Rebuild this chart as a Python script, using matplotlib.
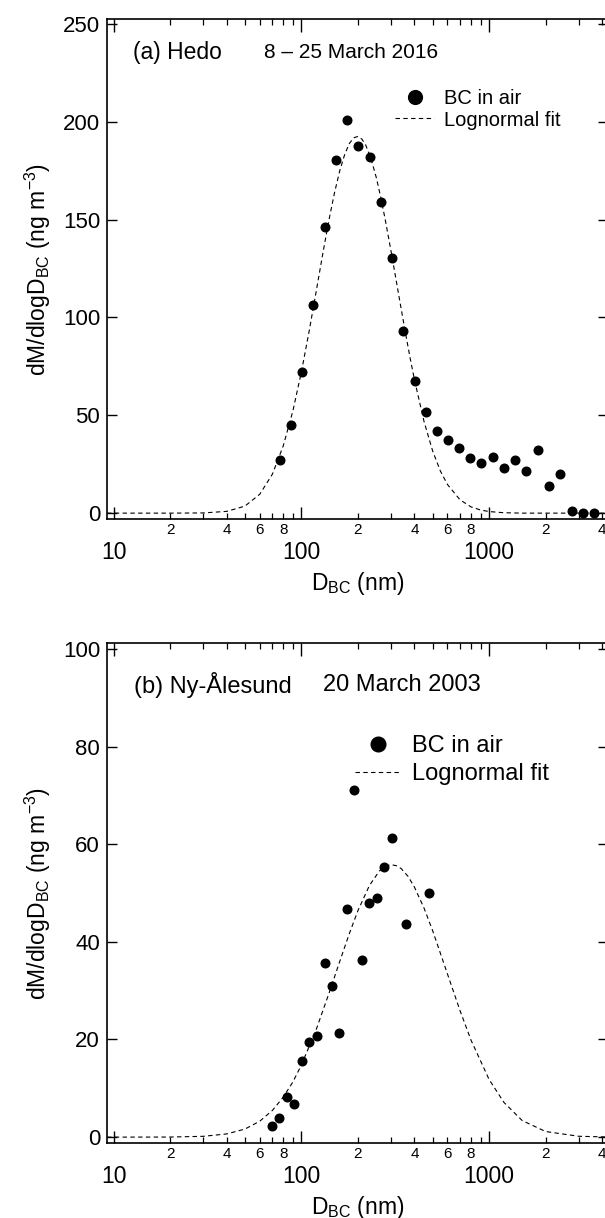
import numpy as np
import matplotlib
matplotlib.use('Agg')
import matplotlib.pyplot as plt
from matplotlib.ticker import FixedLocator, FuncFormatter

plt.rcParams['font.family'] = ['Liberation Sans', 'DejaVu Sans']
plt.rcParams['mathtext.fontset'] = 'custom'
plt.rcParams['mathtext.rm'] = 'Liberation Sans'
plt.rcParams['mathtext.it'] = 'Liberation Sans:italic'

# (a) Hedo, 8-25 March 2016 : measured BC mass size distribution
d_hedo = [76.4, 87.7, 100.5, 115.7, 132.8, 152.0, 174.6, 200.9, 230.6, 264.4,
          303, 349, 400.6, 459, 526, 604, 692, 794, 910, 1048,
          1202, 1378, 1580, 1820, 2088, 2393, 2757, 3162, 3624]
m_hedo = [27.3, 45.2, 72.0, 106.6, 146.1, 180.3, 200.8, 187.6, 182.2, 159.1,
          130.3, 93.3, 67.4, 51.9, 41.8, 37.5, 33.3, 28.3, 25.8, 28.7,
          23.0, 27.0, 21.7, 32.2, 13.8, 20.0, 0.9, 0.0, 0.0]

# lognormal fit, values
fit_d_hedo = [9.2, 20, 30, 40, 50, 60, 70, 80, 90, 100, 110, 120, 130, 140, 150,
              160, 170, 180, 190, 200, 210, 220, 235, 250, 265, 280, 300, 320,
              340, 360, 380, 400, 450, 500, 550, 600, 700, 800, 900, 1000, 1200,
              1500, 2000, 3000, 4300]
fit_m_hedo = [0.0, 0.0, 0.1, 0.9, 3.6, 9.7, 19.9, 34.4, 52.2, 72.3, 93.2, 113.7,
              132.7, 149.6, 163.7, 175.0, 183.3, 188.9, 191.8, 192.5, 191.1,
              188.1, 180.9, 171.8, 161.1, 149.6, 134.0, 118.7, 104.3, 91.0, 78.9,
              68.2, 46.8, 31.8, 21.5, 14.6, 6.8, 3.2, 1.6, 0.8, 0.2, 0.0, 0.0,
              0.0, 0.0]

# (b) Ny-Alesund, 20 March 2003
d_ny = [69.5, 76.1, 83.6, 91.4, 100.5, 109.9, 120.8, 132.8, 145.2, 159.3,
        174.6, 191, 209.9, 229.5, 252.5, 275.8, 303, 362, 479]
m_ny = [2.3, 3.9, 8.2, 6.7, 15.5, 19.4, 20.7, 35.7, 30.9, 21.3,
        46.8, 71.0, 36.3, 48.0, 48.9, 55.4, 61.2, 43.6, 49.9]

fit_d_ny = [9.2, 20, 30, 40, 50, 60, 70, 80, 90, 100, 120, 140, 160, 180, 200,
            230, 260, 280, 300, 320, 340, 370, 400, 450, 500, 600, 700, 800,
            1000, 1200, 1500, 2000, 3000, 4300]
fit_m_ny = [0.0, 0.02, 0.17, 0.66, 1.66, 3.27, 5.47, 8.2, 11.3, 14.8, 22.1, 29.4,
            36.0, 41.7, 46.4, 51.5, 54.5, 55.5, 55.8, 55.6, 55.0, 53.4, 51.2,
            46.9, 42.3, 33.4, 25.9, 19.9, 11.8, 7.1, 3.4, 1.15, 0.18, 0.03]


def minor_label(v, pos):
    lead = int(round(v / 10 ** np.floor(np.log10(v))))
    return str(lead) if lead in (2, 4, 6, 8) else ''


def style_axes(ax, yticks, ylim):
    ax.set_xscale('log')
    ax.set_xlim(9.2, 4300)
    ax.set_ylim(*ylim)
    ax.xaxis.set_major_locator(FixedLocator([10, 100, 1000]))
    ax.xaxis.set_major_formatter(FuncFormatter(lambda v, p: f'{v:.0f}'))
    ax.xaxis.set_minor_locator(FixedLocator([m * 10 ** e for e in (1, 2, 3) for m in range(2, 10)]))
    ax.xaxis.set_minor_formatter(FuncFormatter(minor_label))
    ax.yaxis.set_major_locator(FixedLocator(yticks))
    ax.tick_params(axis='both', which='both', direction='in', top=True, right=True, colors='black')
    ax.tick_params(axis='x', which='major', length=9, width=1.0, pad=16, labelsize=16.5)
    ax.tick_params(axis='x', which='minor', length=4.5, width=0.9, pad=3, labelsize=11)
    ax.tick_params(axis='y', which='major', length=7.5, width=1.0, pad=5, labelsize=16)
    for s in ax.spines.values():
        s.set_linewidth(1.2)
    ax.set_xlabel(r'D$_{\mathrm{BC}}$ (nm)', fontsize=16.5, labelpad=4)
    ax.set_ylabel(r'dM/dlogD$_{\mathrm{BC}}$ (ng m$^{-3}$)', fontsize=16.5, labelpad=7)


fig = plt.figure(figsize=(6.05, 12.18), dpi=100)
W, H = 605, 1218
ax1 = fig.add_axes([107 / W, 1 - 519 / H, 501 / W, 500 / H])
ax2 = fig.add_axes([107 / W, 1 - 1143 / H, 501 / W, 500 / H])

# panel a
ax1.plot(d_hedo, m_hedo, 'o', color='black', ms=6.2, label='BC in air')
ax1.plot(fit_d_hedo, fit_m_hedo, color='black', lw=0.8, ls=(0, (4, 3)), label='Lognormal fit')
style_axes(ax1, [0, 50, 100, 150, 200, 250], (-3, 252.5))
ax1.text(0.052, 0.934, '(a) Hedo', transform=ax1.transAxes, fontsize=16.5, va='center')
ax1.text(0.313, 0.934, '8 – 25 March 2016', transform=ax1.transAxes, fontsize=15, va='center')
ax1.legend(loc='upper left', bbox_to_anchor=(0.575, 0.859), frameon=False, fontsize=14.5,
           handlelength=1.95, handletextpad=0.5, borderpad=0, borderaxespad=0,
           labelspacing=0.1, markerscale=1.6)

# panel b
ax2.plot(d_ny, m_ny, 'o', color='black', ms=6.2, label='BC in air')
ax2.plot(fit_d_ny, fit_m_ny, color='black', lw=0.8, ls=(0, (4, 3)), label='Lognormal fit')
style_axes(ax2, [0, 20, 40, 60, 80, 100], (-1.2, 101.2))
ax2.text(0.054, 0.916, '(b) Ny-Ålesund', transform=ax2.transAxes, fontsize=17, va='center')
ax2.text(0.431, 0.916, '20 March 2003', transform=ax2.transAxes, fontsize=17, va='center')
ax2.legend(loc='upper left', bbox_to_anchor=(0.495, 0.816), frameon=False, fontsize=17,
           handlelength=1.95, handletextpad=0.47, borderpad=0, borderaxespad=0,
           labelspacing=0.27, markerscale=1.7)

fig.savefig('out.png', dpi=100)
